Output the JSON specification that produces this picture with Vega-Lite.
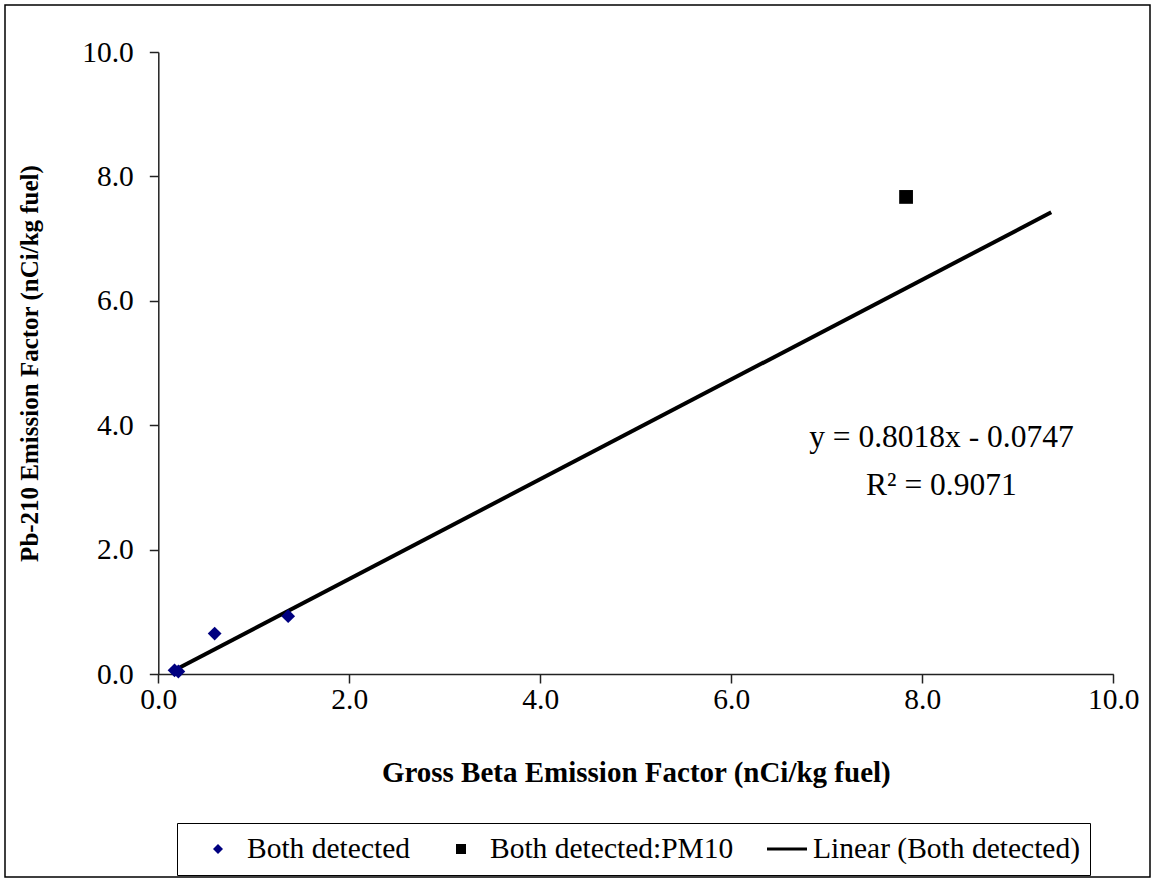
{
  "$schema": "https://vega.github.io/schema/vega-lite/v6.json",
  "width": 1145,
  "height": 872,
  "autosize": {"type": "none"},
  "padding": {"left": 5, "top": 5, "right": 6, "bottom": 5},
  "background": "white",
  "config": {
    "view": {"stroke": "black", "strokeWidth": 1.5},
    "font": "Liberation Serif",
    "axis": {
      "labelFont": "Liberation Serif",
      "titleFont": "Liberation Serif",
      "labelColor": "black",
      "titleColor": "black",
      "domainColor": "#222222",
      "tickColor": "#222222",
      "domainWidth": 1.5,
      "tickWidth": 1.5,
      "tickSize": 9,
      "grid": false,
      "labelFontSize": 29.5,
      "titleFontWeight": "bold"
    }
  },
  "encoding": {
    "x": {
      "field": "x",
      "type": "quantitative",
      "scale": {"domain": [0, 10], "range": [153.3, 1108.3], "nice": false, "zero": false},
      "axis": {
        "title": "Gross Beta Emission Factor (nCi/kg fuel)",
        "titleFontSize": 29,
        "values": [0, 2, 4, 6, 8, 10],
        "format": ".1f",
        "offset": -203,
        "labelPadding": 2,
        "titlePadding": 45,
        "labelFlush": false,
        "labelOverlap": false
      }
    },
    "y": {
      "field": "y",
      "type": "quantitative",
      "scale": {"domain": [0, 10], "range": [669, 47], "nice": false, "zero": false},
      "axis": {
        "title": "Pb-210 Emission Factor (nCi/kg fuel)",
        "titleFontSize": 25,
        "values": [0, 2, 4, 6, 8, 10],
        "format": ".1f",
        "offset": -153.3,
        "labelPadding": 16,
        "titlePadding": 39,
        "labelFlush": false,
        "labelOverlap": false
      }
    }
  },
  "layer": [
    {
      "data": {"values": [
        {"x": 0.17, "y": 0.061},
        {"x": 9.35, "y": 7.422}
      ]},
      "mark": {"type": "line", "color": "black", "strokeWidth": 4},
      "encoding": {}
    },
    {
      "data": {"values": [
        {"series": "Both detected", "x": 0.17, "y": 0.06},
        {"series": "Both detected", "x": 0.21, "y": 0.04},
        {"series": "Both detected", "x": 0.59, "y": 0.65},
        {"series": "Both detected", "x": 1.36, "y": 0.93},
        {"series": "Both detected:PM10", "x": 7.83, "y": 7.67}
      ]},
      "mark": {"type": "point", "filled": true, "opacity": 1, "size": 190},
      "encoding": {
        "color": {
          "field": "series",
          "type": "nominal",
          "scale": {
            "domain": ["Both detected", "Both detected:PM10", "Linear (Both detected)"],
            "range": ["#000080", "#000000", "#000000"]
          },
          "legend": {
            "title": null,
            "orient": "none",
            "legendX": 172,
            "legendY": 818,
            "direction": "horizontal",
            "strokeColor": "black",
            "fillColor": "white",
            "padding": 9,
            "clipHeight": 34,
            "symbolSize": 100,
            "symbolStrokeWidth": 0,
            "labelFont": "Liberation Serif",
            "labelFontSize": 29.5,
            "labelColor": "black",
            "labelOffset": 14.25,
            "labelLimit": 500,
            "columnPadding": 18,
            "symbolOffset": 17.25
          }
        },
        "shape": {
          "field": "series",
          "type": "nominal",
          "scale": {
            "domain": ["Both detected", "Both detected:PM10", "Linear (Both detected)"],
            "range": ["diamond", "square", "M-3.4,-0.3H4.6V0.3H-3.4Z"]
          },
          "legend": null
        }
      }
    },
    {
      "data": {"values": [
        {"x": 8.2, "y": 3.79, "label": "y = 0.8018x - 0.0747"},
        {"x": 8.2, "y": 3.02, "label": "R² = 0.9071"}
      ]},
      "mark": {"type": "text", "font": "Liberation Serif", "fontSize": 31.5, "align": "center", "baseline": "middle", "color": "black"},
      "encoding": {"text": {"field": "label"}}
    }
  ]
}
